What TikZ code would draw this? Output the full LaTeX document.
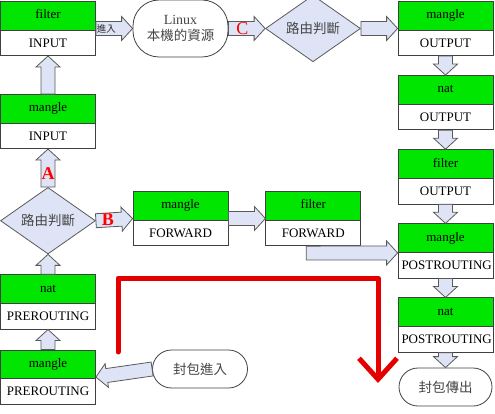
\documentclass[tikz,border=0pt]{standalone}
\usepackage{fontspec}
\setmainfont{Liberation Serif}
\newfontfamily\cjk{Noto Sans CJK TC}
\usepackage{tikz}
\usetikzlibrary{shapes.geometric,shapes.multipart,calc,arrows.meta,positioning}
\definecolor{tblgreen}{RGB}{0,230,0}
\definecolor{pipefill}{RGB}{222,228,246}
\definecolor{pipeline}{RGB}{90,90,90}
\definecolor{txtgray}{RGB}{70,70,70}
\tikzset{>=latex}

% block arrow from #1 to #2
\newcommand{\blockarrow}[2]{%
    \draw[pipe] let \p1=(#1), \p2=(#2),
        \n1={atan2(\y2-\y1,\x2-\x1)}, \n2={veclen(\x2-\x1,\y2-\y1)} in
        [shift={(\p1)}, rotate=\n1]
        (0pt,-7pt) -- (\n2-11pt,-7pt) -- (\n2-11pt,-12pt) -- (\n2,0pt)
        -- (\n2-11pt,12pt) -- (\n2-11pt,7pt) -- (0pt,7pt) -- cycle;}

\begin{document}
\begin{tikzpicture}[x=1pt, y=-1pt]
                        % tbl = table box (green name, white chain), pipe = block arrow
                        \tikzset{tbl/.style={rectangle split, rectangle split parts=2,
                                rectangle split part fill={tblgreen,white}, draw=black!75,
                                line width=0.8pt, text width=88pt, align=center,
                                inner xsep=3.5pt, inner ysep=8pt, text height=9pt,
                                text depth=3pt, font=\fontsize{13}{14}\selectfont}}
                        \tikzset{pipe/.style={fill=pipefill, draw=pipeline, line width=0.8pt}}
                        \tikzset{route/.style={diamond, fill=pipefill, draw=pipeline,
                                line width=0.8pt, minimum width=95pt, minimum height=56pt,
                                inner sep=0pt, text=txtgray, font=\cjk\fontsize{13.5}{15}\selectfont}}
                        \tikzset{term/.style={draw=black!75, line width=0.8pt, fill=white,
                                minimum width=95pt, align=center, text=txtgray,
                                font=\cjk\fontsize{13.5}{16}\selectfont}}
                        \tikzset{redlbl/.style={text=red, font=\fontsize{18}{18}\selectfont}}
                        \tikzset{redpath/.style={draw=red!90!black, line width=5pt,
                                line cap=round, line join=round,
                                -{Straight Barb[length=21pt,width=38pt]}}}

                        \useasboundingbox (0,0) rectangle (495,414);

                        % left column
                        \node[tbl] (finput) at (48,28.5) {filter\nodepart{two}INPUT};
                        \node[tbl, below=38pt of finput] (minput) {mangle\nodepart{two}INPUT};
                        \node[route, below=38pt of minput] (route1) {路由判斷};
                        \node[tbl, below=20pt of route1] (natpre) {nat\nodepart{two}PREROUTING};
                        \node[tbl, below=20pt of natpre] (mangpre) {mangle\nodepart{two}PREROUTING};

                        % middle
                        \node[term, minimum height=57pt, rounded corners=26pt] (linux) at (180.5,28.5)
                                {{\rmfamily\fontsize{14}{16}\selectfont Linux}\\本機的資源};
                        \node[route] (route2) at (313,28.5) {路由判斷};
                        \node[tbl] (mfwd) at (180.5,218.5) {mangle\nodepart{two}FORWARD};
                        \node[tbl, right=37pt of mfwd] (ffwd) {filter\nodepart{two}FORWARD};
                        \node[term, minimum height=38pt, rounded corners=19pt] (pktin) at (200,369) {封包進入};

                        % right column
                        \node[tbl] (mout) at (445.5,28.5) {mangle\nodepart{two}OUTPUT};
                        \node[tbl, below=19pt of mout] (nout) {nat\nodepart{two}OUTPUT};
                        \node[tbl, below=19pt of nout] (fout) {filter\nodepart{two}OUTPUT};
                        \node[tbl, below=19pt of fout] (mpost) {mangle\nodepart{two}POSTROUTING};
                        \node[tbl, below=19pt of mpost] (npost) {nat\nodepart{two}POSTROUTING};
                        \node[term, minimum width=93pt, minimum height=38pt, rounded corners=19pt,
                                below=15pt of npost] (pktout) {封包傳出};

                        % incoming packets
                        \blockarrow{pktin.west}{mangpre.east}
                        \blockarrow{mangpre.north}{natpre.south}
                        \blockarrow{natpre.north}{route1.south}
                        \blockarrow{route1.north}{minput.south}
                        \blockarrow{minput.north}{finput.south}
                        \blockarrow{finput.east}{linux.west}
                        \blockarrow{linux.east}{route2.west}
                        \blockarrow{route2.east}{mout.west}
                        \blockarrow{mout.south}{nout.north}
                        \blockarrow{nout.south}{fout.north}
                        \blockarrow{fout.south}{mpost.north}
                        \blockarrow{mpost.south}{npost.north}
                        \blockarrow{npost.south}{pktout.north}

                        % forward
                        \blockarrow{route1.east}{mfwd.west}
                        \blockarrow{mfwd.east}{ffwd.west}
                        \draw[pipe] let \p1=(ffwd.south), \p2=(mpost.west) in
                                (\x1-7pt,\y1) -- (\x1-7pt,\y2-9pt) -- (\x2-11pt,\y2-9pt)
                                -- (\x2-11pt,\y2-14pt) -- (\x2,\y2-2pt) -- (\x2-11pt,\y2+10pt)
                                -- (\x2-11pt,\y2+5pt) -- (\x1+7pt,\y2+5pt) -- (\x1+7pt,\y1) -- cycle;

                        % labels
                        \node[font=\cjk\fontsize{9.5}{10}\selectfont, text=black!85, inner sep=0pt]
                                (inlbl) at ($(finput.east)+(10.5,0)$) {進入};
                        \node[redlbl] (clbl) at ($(linux.east)+(14,0)$) {C};
                        \node[redlbl, font=\bfseries\fontsize{18}{18}\selectfont] (albl)
                                at ($(route1.north)+(0,-13)$) {A};
                        \node[redlbl, font=\bfseries\fontsize{18}{18}\selectfont] (blbl)
                                at ($(route1.east)+(12,-1)$) {B};

                        % red path
                        \coordinate (redstart) at (118,352);
                        \coordinate (redtop) at (118,278);
                        \coordinate (redend) at (378,383);
                        \draw[redpath] (redstart) -- (redtop) -| (redend);
\end{tikzpicture}
\end{document}
